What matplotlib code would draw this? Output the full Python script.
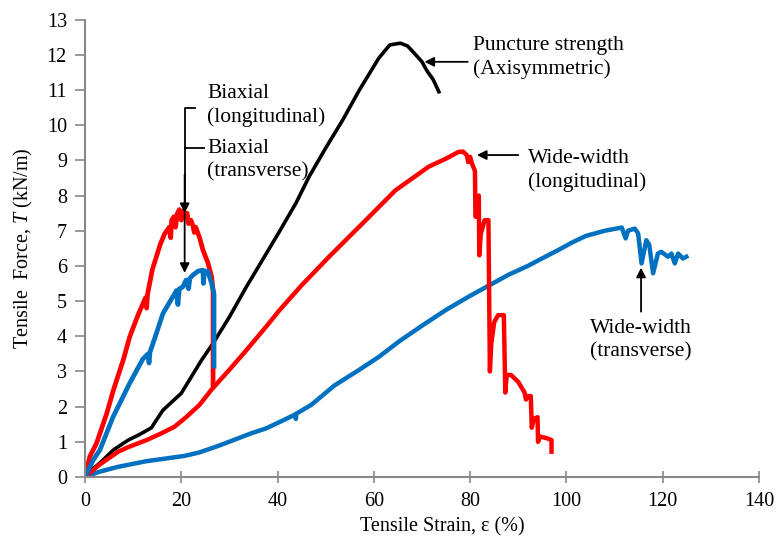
import numpy as np
import matplotlib.pyplot as plt

plt.rcParams['font.family'] = ['Liberation Serif', 'DejaVu Serif']
plt.rcParams['mathtext.fontset'] = 'custom'
plt.rcParams['mathtext.it'] = 'Liberation Serif:italic'
plt.rcParams['mathtext.rm'] = 'Liberation Serif'

# wide-width, transverse (blue)
ww_tr_x = [0, 1, 3, 6.9, 12.8, 20.7, 23.8, 28, 34.5, 37.6, 41, 43.7, 43.8, 43.9, 47, 51.8, 57,
           61.1, 65.2, 70, 75, 80, 84, 88, 92, 94.2, 98.3, 101.1, 104, 108, 111.5, 112.3,
           112.8, 114.2, 114.9, 115.6, 116.6, 117.2, 118, 119, 119.7, 121.1, 121.8, 122.5,
           123.2, 124.2, 124.9]
ww_tr_y = [0, 0.05, 0.15, 0.29, 0.45, 0.6, 0.7, 0.9, 1.24, 1.38, 1.6, 1.78, 1.65, 1.8, 2.05, 2.6, 3.05,
           3.42, 3.85, 4.3, 4.75, 5.15, 5.45, 5.75, 6.0, 6.16, 6.45, 6.66, 6.85, 7.0, 7.09, 6.78,
           7.0, 7.06, 6.92, 6.07, 6.73, 6.6, 5.79, 6.35, 6.4, 6.26, 6.35, 6.07,
           6.35, 6.21, 6.26]

# puncture strength (black)
punct_x = [0, 0.4, 2.1, 3.5, 5.9, 9, 11.5, 12.4, 13.8, 14.5, 16.2, 20, 24.2, 26.6, 30, 33.5, 37,
           40.4, 43.8, 46.6, 50, 53.5, 57, 61, 63.3, 65.5, 67, 68.7, 70, 71, 72.3, 73.5]
punct_y = [0, 0.2, 0.28, 0.45, 0.77, 1.05, 1.22, 1.29, 1.4, 1.55, 1.9, 2.38, 3.32, 3.8, 4.55, 5.4, 6.2,
           6.98, 7.78, 8.55, 9.35, 10.14, 11.0, 11.9, 12.28, 12.33, 12.25, 12.0, 11.8, 11.55, 11.3, 10.95]

# wide-width, longitudinal (red)
ww_lg_x = [0, 1, 3, 6.9, 9, 12.8, 16, 18.6, 21, 23.8, 26.2, 30, 33.5, 37.6, 40.4, 45, 50.7, 57.6,
           64.5, 71.4, 75, 77.6, 78.5, 79.3, 79.6, 80, 80.4, 81, 81.1, 81.5, 81.8, 81.9, 82.2,
           83, 83.8, 84.1, 84.4, 85, 85.8, 87, 87.3, 87.6, 88.5, 90, 91.3, 91.6, 92, 92.6, 92.8,
           93.2, 94, 94.1, 94.5, 96, 96.9, 96.9]
ww_lg_y = [0, 0.12, 0.35, 0.72, 0.85, 1.05, 1.25, 1.43, 1.7, 2.05, 2.47, 3.05, 3.6, 4.27, 4.74, 5.45, 6.26, 7.2,
           8.15, 8.82, 9.05, 9.24, 9.25, 9.15, 8.95, 9.1, 8.9, 8.7, 7.4, 7.4, 8.0, 6.3, 6.9,
           7.3, 7.3, 3.0, 3.8, 4.4, 4.6, 4.6, 2.4, 2.9, 2.9, 2.7, 2.4, 2.2, 2.3, 2.3, 1.4,
           1.65, 1.7, 1.0, 1.15, 1.1, 1.05, 0.72]

# biaxial, longitudinal (red)
bi_lg_x = [0, 1, 2.4, 4.5, 5.9, 8, 9.3, 11, 12.6, 12.8, 13.0, 14, 15.6, 16.5, 17.5, 17.8, 18, 18.5,
           18.8, 19.2, 19.6, 20, 20.3, 20.8, 21.2, 21.5, 22, 22.4, 22.7, 23, 23.8, 24.5, 25.5,
           26.3, 26.6, 26.6]
bi_lg_y = [0, 0.58, 0.96, 1.8, 2.47, 3.35, 3.99, 4.6, 5.1, 4.8, 5.2, 5.9, 6.6, 6.9, 7.1, 6.8, 7.3, 7.4,
           7.1, 7.5, 7.6, 7.3, 7.55, 7.4, 7.5, 7.2, 7.3, 7.15, 6.95, 7.1, 6.8, 6.45, 6.1,
           5.69, 5.3, 2.6]

# biaxial, transverse (blue)
bi_tr_x = [0, 1.7, 3.1, 5.8, 9.3, 12, 13.1, 13.3, 13.5, 14.5, 16.2, 17.5, 19, 19.3, 19.6, 20.3, 21,
           21.5, 21.8, 22.5, 23.5, 24.5, 24.6, 24.8, 25.5, 26.3, 26.8, 26.8, 26.8]
bi_tr_y = [0, 0.48, 0.77, 1.7, 2.67, 3.35, 3.5, 3.24, 3.55, 3.95, 4.65, 4.95, 5.3, 4.9, 5.35, 5.4, 5.6,
           5.35, 5.65, 5.75, 5.85, 5.88, 5.5, 5.85, 5.85, 5.5, 5.2, 3.4, 3.15]

fig = plt.figure(figsize=(7.77, 5.46), dpi=100)
ax = fig.add_axes([85 / 777, 1 - 477 / 546, 674 / 777, (477 - 19.6) / 546])

ax.plot(ww_tr_x, ww_tr_y, color='#0070C0', lw=3.2, solid_joinstyle='round')
ax.plot(punct_x, punct_y, color='black', lw=2.6, solid_joinstyle='round')
ax.plot(ww_lg_x, ww_lg_y, color='#FF0000', lw=3.2, solid_joinstyle='round')
ax.plot(bi_lg_x, bi_lg_y, color='#FF0000', lw=3.4, solid_joinstyle='round')
ax.plot(bi_tr_x, bi_tr_y, color='#0070C0', lw=3.4, solid_joinstyle='round')

ax.set_xlim(0, 140)
ax.set_ylim(0, 13)
ax.set_xticks(np.arange(0, 141, 20))
ax.set_yticks(np.arange(0, 14, 1))
for s in ['top', 'right']:
    ax.spines[s].set_visible(False)
for s in ['left', 'bottom']:
    ax.spines[s].set_color('#888888')
    ax.spines[s].set_linewidth(1.5)
ax.tick_params(axis='x', direction='inout', length=9, width=1.2, color='#888888',
               labelsize=14.5, pad=6)
ax.tick_params(axis='y', direction='out', length=7, width=1.2, color='#888888',
               labelsize=14.5, pad=6)

ax.set_xlabel('Tensile Strain, ε (%)', fontsize=14.5)
ax.xaxis.set_label_coords((442 - 85) / 674, -0.088)
ax.set_ylabel('Tensile  Force, $T$ (kN/m)', fontsize=14.5)
ax.yaxis.set_label_coords(-0.074, 0.5)

fs = 15.5
ls = 1.3
arrow = dict(arrowstyle='-|>', color='black', lw=1.3, mutation_scale=14, shrinkA=0, shrinkB=0)

# puncture strength
ax.annotate('', xy=(70.5, 11.8), xytext=(79.5, 11.8), arrowprops=arrow)
ax.text(80.5, 11.93, 'Puncture strength\n(Axisymmetric)', fontsize=fs, va='center', ha='left',
        linespacing=ls)

# wide-width longitudinal
ax.annotate('', xy=(81.4, 9.15), xytext=(90, 9.15), arrowprops=arrow)
ax.text(92, 8.72, 'Wide-width\n(longitudinal)', fontsize=fs, va='center', ha='left',
        linespacing=ls)

# wide-width transverse
ax.annotate('', xy=(115.5, 5.95), xytext=(115.5, 4.7), arrowprops=arrow)
ax.text(115.5, 3.9, 'Wide-width\n(transverse)', fontsize=fs, va='center', ha='center',
        linespacing=ls)

# biaxial brackets
ax.plot([22.8, 20.7, 20.7], [10.48, 10.48, 7.6], color='black', lw=1.3)
ax.plot([24.8, 20.7], [9.35, 9.35], color='black', lw=1.3)
ax.annotate('', xy=(20.7, 7.5), xytext=(20.7, 8.6), arrowprops=arrow)
ax.annotate('', xy=(20.7, 5.8), xytext=(20.7, 7.5), arrowprops=arrow)
ax.text(25.4, 10.57, 'Biaxial\n(longitudinal)', fontsize=fs, va='center', ha='left',
        linespacing=ls)
ax.text(25.4, 9.0, 'Biaxial\n(transverse)', fontsize=fs, va='center', ha='left',
        linespacing=ls)

fig.savefig('out.png', dpi=100)
